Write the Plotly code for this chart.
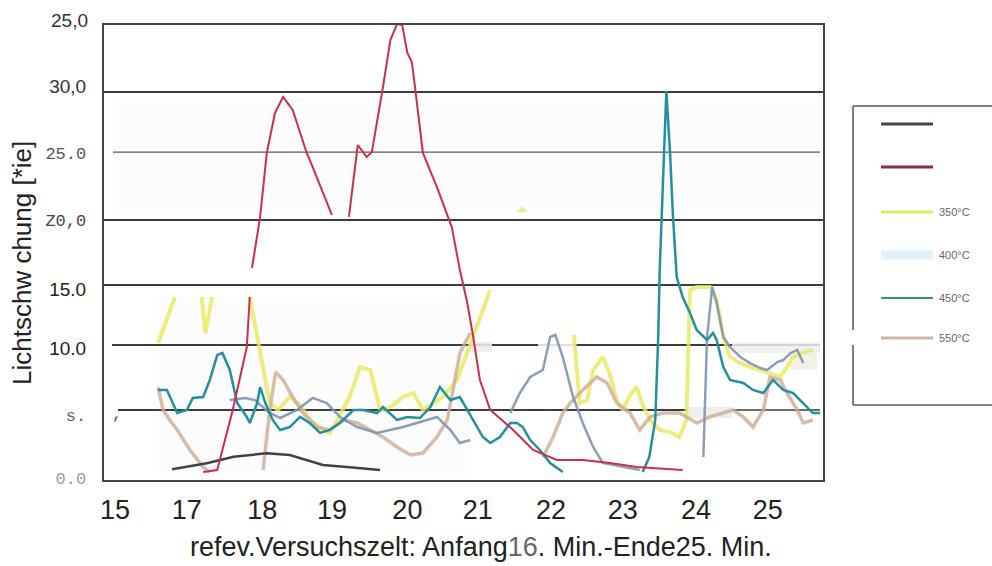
import plotly.graph_objects as go

# ---------------- data (x: minutes, y: Lichtschwächung units) ----------------
navy_x = [16.96, 17.43, 17.79, 18.24, 18.55, 18.78, 19.00, 19.36, 19.77]
navy_y = [0.97, 1.43, 1.93, 2.19, 2.06, 1.68, 1.30, 1.12, 0.92]

red_x = [17.38, 17.57, 17.78, 17.97, 18.01, 18.02, 18.04, 18.15, 18.24, 18.35, 18.46, 18.59, 18.78, 18.86, 19.12,
         19.2, 19.35, 19.47, 19.59, 19.66, 19.81, 19.91, 20.00, 20.07, 20.14, 20.20, 20.24, 20.35, 20.54, 20.65,
         20.74, 20.85, 20.95, 21.03, 21.12, 21.26, 21.57, 21.84, 22.16, 22.51, 22.88, 23.24, 23.86]
red_y = [0.76, 0.91, 5.49, 10.29, 14.11, None, 16.32, 20.21, 25.09, 28.14, 29.36, 28.37, 25.09, 24.02, 20.36,
         None, 20.21, 25.70, 24.78, 25.16, 30.12, 33.70, 34.92, 34.85, 32.71, 32.03, 30.27, 25.09, 22.49, 20.74,
         19.44, 16.17, 13.65, 11.06, 7.78, 5.49, 3.97, 2.44, 1.68, 1.68, 1.45, 1.14, 0.91]

teal_x = [16.77, 16.89, 17.03, 17.16, 17.24, 17.38, 17.47, 17.57, 17.64, 17.74, 17.84, 17.97, 18.01, 18.11, 18.15,
          18.22, 18.32, 18.42, 18.55, 18.69, 18.82, 18.96, 19.09, 19.23, 19.41, 19.54, 19.73, 19.81, 20.00, 20.14,
          20.31, 20.45, 20.58, 20.72, 20.85, 20.95, 21.05, 21.16, 21.26, 21.39, 21.53, 21.62, 21.70, 21.80, 21.93,
          22.07, 22.24, 22.8, 23.32, 23.41, 23.49, 23.53, 23.55, 23.64, 23.69, 23.73, 23.78, 23.86, 23.96, 24.05,
          24.19, 24.27, 24.32, 24.41, 24.50, 24.68, 24.81, 24.95, 25.08, 25.22, 25.35, 25.49, 25.62, 25.72]
teal_y = [7.02, 7.02, 5.26, 5.49, 6.41, 6.48, 7.78, 9.68, 9.84, 8.54, 6.02, 4.96, 4.50, 6.02, 7.24,
          6.02, 4.73, 3.97, 4.19, 4.96, 4.50, 3.74, 3.97, 4.50, 5.49, 5.49, 5.26, 5.72, 4.73, 4.96,
          4.88, 5.72, 7.24, 6.25, 6.48, 5.49, 4.50, 3.43, 2.97, 3.43, 4.50, 4.50, 4.19, 3.20, 2.44,
          1.45, 0.76, None, 0.76, 1.91, 4.73, 11.06, 16.17, 29.81, 25.09, 20.21, 15.63, 14.11, 12.89, 11.59,
          10.83, 11.36, 10.83, 8.77, 7.78, 7.55, 7.02, 6.79, 7.78, 7.02, 6.79, 6.02, 5.26, 5.26]

yellow_x = [16.77, 16.89, 17.00, 17.2, 17.36, 17.41, 17.50, 17.8, 18.01, 18.08, 18.15, 18.22, 18.28, 18.39, 18.55,
            18.69, 18.82, 19.00, 19.09, 19.19, 19.36, 19.50, 19.64, 19.77, 19.91, 20.08, 20.22, 20.35, 20.62, 20.81,
            20.99, 21.12, 21.26, 21.8, 22.39, 22.43, 22.47, 22.57, 22.65, 22.78, 22.88, 22.97, 23.05, 23.15, 23.24,
            23.32, 23.42, 23.55, 23.69, 23.82, 23.91, 23.96, 24.05, 24.23, 24.32, 24.41, 24.50, 24.64, 24.77, 24.91,
            25.04, 25.18, 25.27, 25.35, 25.49, 25.62]
yellow_y = [10.60, 12.51, 14.11, None, 14.11, 11.36, 14.11, None, 14.11, 11.97, 9.84, 7.78, 6.02, 5.49, 6.48,
            5.87, 4.73, 3.97, 3.74, 4.73, 6.48, 8.77, 8.54, 5.49, 5.72, 6.48, 6.79, 5.49, 6.48, 7.78,
            10.45, 12.35, 14.64, None, 11.21, 8.54, 6.02, 6.25, 8.54, 9.53, 8.16, 6.25, 5.49, 6.63, 7.24,
            5.87, 4.73, 3.97, 3.81, 3.43, 4.73, 14.64, 14.87, 14.87, 13.88, 11.06, 9.53, 9.07, 8.77, 8.54,
            8.31, 8.01, 8.77, 9.53, 9.84, 10.07]
yellow_dot_x = [21.69]
yellow_dot_y = [20.74]

slate_x = [17.74, 17.95, 18.08, 18.26, 18.42, 18.65, 18.86, 19.05, 19.23, 19.46, 19.73, 19.91, 20.08, 20.27, 20.54,
           20.72, 20.85, 20.99, 21.3, 21.53, 21.66, 21.80, 21.97, 22.07, 22.14, 22.24, 22.38, 22.51, 22.65, 22.78,
           23.05, 23.28, 23.7, 24.14, 24.16, 24.19, 24.26, 24.32, 24.41, 24.50, 24.64, 24.77, 24.91, 25.00, 25.14,
           25.22, 25.32, 25.41, 25.49]
slate_y = [6.25, 6.41, 6.25, 5.34, 4.88, 5.49, 6.41, 6.02, 4.96, 4.19, 3.74, 3.97, 4.19, 4.50, 4.96,
           3.97, 2.97, 3.20, None, 5.26, 6.79, 8.01, 8.54, 11.06, 11.21, 9.53, 6.48, 4.50, 2.67, 1.45,
           1.14, 0.92, None, 1.91, 6.02, 11.06, 14.87, 13.65, 11.06, 10.29, 9.53, 9.07, 8.69, 8.54, 9.15,
           9.30, 9.84, 10.07, 9.07]

tan_x = [16.77, 16.84, 16.93, 17.03, 17.20, 17.38, 17.47, 17.8, 18.19, 18.28, 18.36, 18.46, 18.59, 18.73, 18.92,
         19.09, 19.27, 19.46, 19.64, 19.81, 20.00, 20.18, 20.35, 20.54, 20.68, 20.76, 20.85, 20.99, 21.5, 21.97,
         22.11, 22.24, 22.34, 22.51, 22.70, 22.84, 22.97, 23.15, 23.28, 23.42, 23.59, 23.82, 24.05, 24.23, 24.54,
         24.68, 24.81, 24.95, 25.04, 25.18, 25.27, 25.41, 25.49, 25.62]
tan_y = [7.24, 5.49, 4.73, 3.97, 2.44, 1.14, 0.76, None, 0.92, 5.49, 8.39, 7.78, 6.48, 5.26, 4.19,
         3.97, 4.73, 4.50, 3.97, 3.43, 2.67, 2.06, 2.21, 3.43, 4.73, 7.24, 9.84, 11.36, None, 1.91,
         3.43, 5.26, 6.02, 7.02, 8.01, 7.55, 6.02, 5.26, 3.97, 4.96, 5.26, 5.26, 4.50, 4.96, 5.49,
         4.96, 4.19, 5.49, 8.01, 7.78, 6.79, 5.49, 4.50, 4.73]

x_tick_vals = [16.19, 17.16, 18.18, 19.12, 20.14, 21.09, 22.08, 23.05, 24.04, 25.01]
x_tick_text = ["15", "17", "18", "19", "20", "21", "22", "23", "24", "25"]

MONO = "font-family:'Liberation Mono',monospace;font-size:17px;"
y_tick_vals = [0.38, 5.19, 10.22, 14.72, 20.05, 25.16, 30.20]
y_tick_text = [f'<span style="{MONO}color:#9a9a9a">0.0</span>',
               f'<span style="{MONO}color:#666">s.</span>',
               '10.0', '15.0',
               f'<span style="{MONO}color:#444">Z0,0</span>',
               f'<span style="{MONO}color:#555">25.0</span>',
               '<span style="color:#333">30,0</span>']
top_label = "25,0"
grid_full = [29.74, 19.98, 15.02]
grid_thin = 25.16
grid_10 = 10.45
grid_5 = 5.49

legend_labels = ["", "", "350°C", "400°C", "450°C", "550°C"]
legend_colors = ["#3d4653", "#8e2d4a", "#e2e860", "#dcf3fa", "#3f8d86", "#cdb5a8"]
legend_widths = [3, 3, 3, 9, 2, 3]

# ---------------- figure ----------------
W, H = 992, 566
L, R, T, B = 104, 823, 25, 480          # plot area in pixels


def pxx(px):
    return (px - L) / (R - L)


def pxy(py):
    return (B - py) / (B - T)


fig = go.Figure()
fig.add_trace(go.Scatter(x=yellow_x, y=yellow_y, mode="lines", name="350°C",
                         line=dict(color="rgba(232,232,95,0.8)", width=4)))
fig.add_trace(go.Scatter(x=yellow_dot_x, y=yellow_dot_y, mode="markers", showlegend=False,
                         marker=dict(color="rgba(232,232,95,0.8)", size=8, symbol="triangle-up")))
fig.add_trace(go.Scatter(x=tan_x, y=tan_y, mode="lines", name="550°C",
                         line=dict(color="rgba(205,172,148,0.8)", width=3.5)))
fig.add_trace(go.Scatter(x=slate_x, y=slate_y, mode="lines", name="grau",
                         line=dict(color="rgba(128,148,178,0.9)", width=2.5)))
fig.add_trace(go.Scatter(x=teal_x, y=teal_y, mode="lines", name="450°C",
                         line=dict(color="#23909e", width=2.5)))
fig.add_trace(go.Scatter(x=navy_x, y=navy_y, mode="lines", name="A",
                         line=dict(color="#3b4351", width=2.5)))
fig.add_trace(go.Scatter(x=red_x, y=red_y, mode="lines", name="B",
                         line=dict(color="#cc2f4c", width=2)))

shapes = []
# faint collage patches (background)
for (x0, y0, x1, y1, c) in [(113, 97, 820, 214, "#fcfcfc"), (158, 297, 470, 473, "#fcfcfc"),
                            (470, 342, 492, 352, "#ededed"), (688, 407, 732, 418, "#eeeeee"),
                            (732, 342, 820, 353, "#f0f0f0"), (790, 353, 817, 370, "#f0f2e6")]:
    shapes.append(dict(type="rect", xref="paper", yref="paper", x0=pxx(x0), x1=pxx(x1),
                       y0=pxy(y1), y1=pxy(y0), fillcolor=c, line=dict(width=0), layer="below"))
# grid lines
for gy in grid_full:
    shapes.append(dict(type="line", xref="paper", yref="y", x0=0, x1=1, y0=gy, y1=gy,
                       line=dict(color="#3c3c3c", width=2), layer="below"))
shapes.append(dict(type="line", xref="paper", yref="y", x0=pxx(113), x1=pxx(820), y0=grid_thin, y1=grid_thin,
                   line=dict(color="#5a5a5a", width=1.3), layer="below"))
for (a, b, c, w) in [(112, 470, "#3c3c3c", 2), (492, 538, "#3c3c3c", 2), (575, 732, "#3c3c3c", 2),
                     (470, 492, "#cfcfcf", 1.5), (538, 575, "#d5d5d5", 1.5), (732, 820, "#c8c8c8", 1.5)]:
    shapes.append(dict(type="line", xref="paper", yref="y", x0=pxx(a), x1=pxx(b), y0=grid_10, y1=grid_10,
                       line=dict(color=c, width=w), layer="below"))
for (a, b, w) in [(118, 687, 2), (733, 820, 1.3)]:
    shapes.append(dict(type="line", xref="paper", yref="y", x0=pxx(a), x1=pxx(b), y0=grid_5, y1=grid_5,
                       line=dict(color="#3c3c3c", width=w), layer="below"))

# manual legend box
LC = dict(color="#555", width=1.5)
for (x0, y0, x1, y1) in [(853, 106, 1000, 106), (853, 405, 1000, 405), (853, 106, 853, 330), (853, 345, 853, 405)]:
    shapes.append(dict(type="line", xref="paper", yref="paper", x0=pxx(x0), x1=pxx(x1),
                       y0=pxy(y0), y1=pxy(y1), line=LC))
leg_rows = [124, 167, 212, 255, 298, 338]
annotations = []
for lab, col, lw, ry in zip(legend_labels, legend_colors, legend_widths, leg_rows):
    shapes.append(dict(type="line", xref="paper", yref="paper", x0=pxx(881), x1=pxx(933),
                       y0=pxy(ry), y1=pxy(ry), line=dict(color=col, width=lw)))
    if lab:
        annotations.append(dict(text=lab, xref="paper", yref="paper", x=pxx(937), y=pxy(ry),
                                xanchor="left", yanchor="middle", showarrow=False,
                                font=dict(family="Liberation Sans, Arial", size=11, color="#666")))

annotations += [
    dict(text=top_label, xref="paper", yref="paper", x=pxx(90), y=pxy(20), xanchor="right", yanchor="middle",
         showarrow=False, font=dict(family="Liberation Sans, Arial", size=19, color="#333")),
    dict(text=",", xref="paper", yref="paper", x=pxx(110), y=pxy(414), xanchor="left", yanchor="middle",
         showarrow=False, font=dict(family="Liberation Mono, monospace", size=17, color="#555")),
    dict(text="Lichtschw chung [*ie]", xref="paper", yref="paper", x=pxx(22), y=pxy(263),
         xanchor="center", yanchor="middle", textangle=-90, showarrow=False,
         font=dict(family="Liberation Sans, Arial", size=26, color="#222")),
    dict(text="refev.Versuchszelt: Anfang<span style='color:#666'>16</span>. Min.-Ende25. Min.",
         xref="paper", yref="paper", x=pxx(481), y=pxy(547), xanchor="center", yanchor="middle",
         showarrow=False, font=dict(family="Liberation Sans, Arial", size=27, color="#222")),
]

fig.update_layout(
    width=W, height=H, margin=dict(l=L, r=W - R, t=T, b=H - B),
    paper_bgcolor="white", plot_bgcolor="white", showlegend=False,
    shapes=shapes, annotations=annotations,
    xaxis=dict(range=[16.04, 25.757], tickvals=x_tick_vals, ticktext=x_tick_text, showgrid=False,
               zeroline=False, showline=True, mirror=True, linecolor="#444", linewidth=2, ticks="",
               ticklabelstandoff=5,
               tickfont=dict(family="Liberation Sans, Arial", size=27, color="#222")),
    yaxis=dict(range=[0.1525, 34.848], tickvals=y_tick_vals, ticktext=y_tick_text, showgrid=False,
               zeroline=False, showline=True, mirror=True, linecolor="#444", linewidth=2, ticks="",
               ticklabelstandoff=12,
               tickfont=dict(family="Liberation Sans, Arial", size=19, color="#222")),
)

fig.write_html("out.html")
